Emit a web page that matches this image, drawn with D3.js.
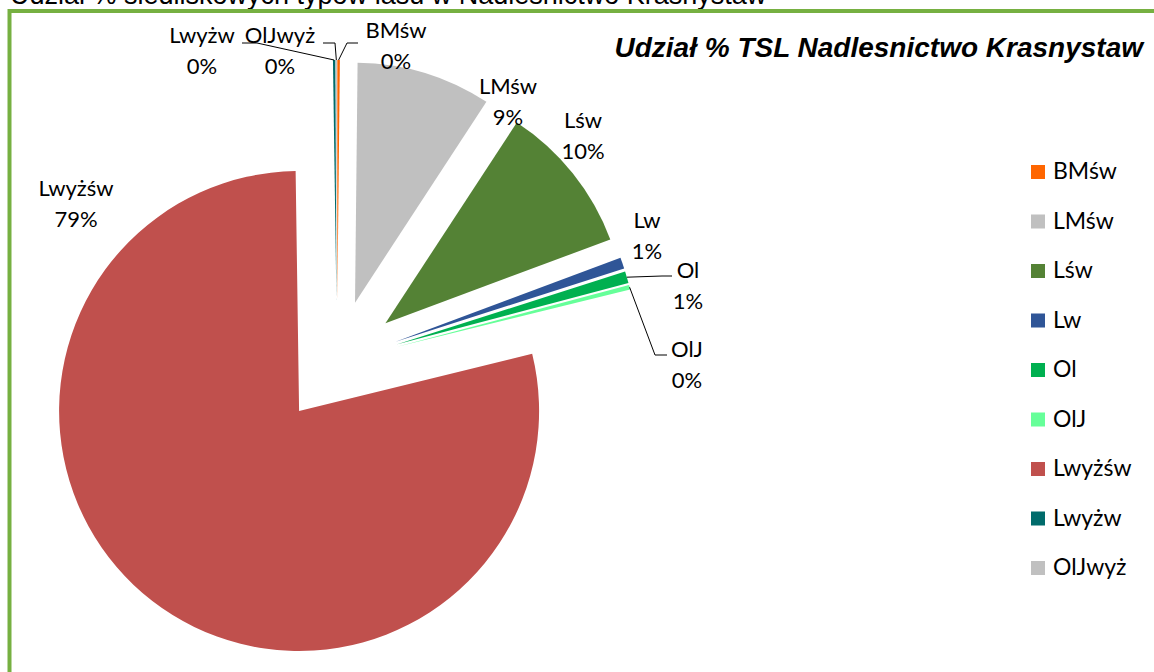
<!DOCTYPE html>
<html>
<head>
<meta charset="utf-8">
<script src="https://cdn.jsdelivr.net/npm/d3@7"></script>
<style>
  html, body { margin: 0; padding: 0; background: #fff; }
  svg { display: block; }
</style>
</head>
<body>
<svg id="chart" width="1154" height="672"></svg>
<script>
// ---- data ----
const categories = ["BMśw", "LMśw", "Lśw", "Lw", "Ol", "OlJ", "Lwyżśw", "Lwyżw", "OlJwyż"];
const shares = [0.17, 9.05, 10.1, 0.75, 0.8, 0.3, 78.6, 0.16, 0.07];
const colors = ["#ff6600", "#c0c0c0", "#548235", "#2f5597", "#00b050", "#66ff99", "#c0504d", "#006b6b", "#c0c0c0"];
const chartTitle = "Udział % TSL Nadlesnictwo Krasnystaw";
const pageHeading = "Udział % siedliskowych typów lasu w Nadleśnictwo Krasnystaw";

// ---- layout (label anchors & leader elbows) ----
const labelLayout = [
  { x: 396, y: 38, elbows: [[347, 43], [358, 43]] },
  { x: 508, y: 94 },
  { x: 583, y: 128 },
  { x: 647, y: 228 },
  { x: 688, y: 278, elbows: [[662, 276], [672, 276]] },
  { x: 687, y: 357, elbows: [[655, 355], [667, 355]] },
  { x: 76, y: 196 },
  { x: 202, y: 43, elbows: [[257, 43], [242, 43]] },
  { x: 280, y: 43, elbows: [[335, 43], [323, 43]] }
];
const lineGap = 31;

const svg = d3.select("#chart");
const labelFont = "Lato, 'Open Sans', sans-serif";
const labelSize = 22;
const legendSize = 23;

// page heading (cut off at top)
svg.append("text")
  .attr("x", 10).attr("y", 4)
  .attr("font-family", "'Liberation Sans', Arial, sans-serif")
  .attr("font-size", 27)
  .attr("fill", "#000")
  .text(pageHeading);

// frame
svg.append("rect")
  .attr("x", 9.5).attr("y", 11)
  .attr("width", 1200).attr("height", 700)
  .attr("fill", "#fff")
  .attr("stroke", "#76b041")
  .attr("stroke-width", 4);

// title
svg.append("text")
  .attr("x", 1143).attr("y", 57)
  .attr("text-anchor", "end")
  .attr("font-family", "'Liberation Sans', Arial, sans-serif")
  .attr("font-size", 28)
  .attr("font-weight", "bold")
  .attr("font-style", "italic")
  .attr("fill", "#000")
  .text(chartTitle);

// pie
const cx = 337, cy = 362, radius = 240, explode = 62;
const total = d3.sum(shares);
const data = categories.map((c, i) => ({ name: c, v: shares[i], color: colors[i], i }));
const pie = d3.pie().sort(null).value(d => d.v).startAngle(0).endAngle(2 * Math.PI);
const arcs = pie(data);
const arc = d3.arc().innerRadius(0).outerRadius(radius);

const g = svg.append("g").attr("transform", `translate(${cx},${cy})`);

arcs.forEach(a => {
  const mid = (a.startAngle + a.endAngle) / 2;
  a.mid = mid;
  a.ox = explode * Math.sin(mid);
  a.oy = -explode * Math.cos(mid);
});

g.selectAll("path.slice")
  .data(arcs)
  .join("path")
  .attr("class", "slice")
  .attr("transform", d => `translate(${d.ox},${d.oy})`)
  .attr("d", arc)
  .attr("fill", d => d.data.color);

// leader lines
const fmt = d3.format(".0%");
arcs.forEach(a => {
  const L = labelLayout[a.data.i];
  if (!L.elbows) return;
  const sx = cx + a.ox + radius * Math.sin(a.mid);
  const sy = cy + a.oy - radius * Math.cos(a.mid);
  const pts = [[sx, sy]].concat(L.elbows);
  svg.append("path")
    .attr("d", d3.line()(pts))
    .attr("fill", "none")
    .attr("stroke", "#000")
    .attr("stroke-width", 1);
});

// data labels
arcs.forEach(a => {
  const L = labelLayout[a.data.i];
  const t = svg.append("text")
    .attr("text-anchor", "middle")
    .attr("font-family", labelFont)
    .attr("font-size", labelSize)
    .attr("fill", "#000");
  t.append("tspan").attr("x", L.x).attr("y", L.y).text(a.data.name);
  t.append("tspan").attr("x", L.x).attr("y", L.y + lineGap).text(fmt(a.data.v / total));
});

// legend
const legendX = 1031, legendY0 = 172, legendStep = 49.5, sq = 14;
const lg = svg.append("g");
data.forEach((d, i) => {
  const y = legendY0 + i * legendStep;
  lg.append("rect")
    .attr("x", legendX).attr("y", y - sq / 2)
    .attr("width", sq).attr("height", sq)
    .attr("fill", d.color);
  lg.append("text")
    .attr("x", legendX + 22).attr("y", y + 7)
    .attr("font-family", labelFont)
    .attr("font-size", legendSize)
    .attr("fill", "#000")
    .text(d.name);
});
</script>
</body>
</html>
